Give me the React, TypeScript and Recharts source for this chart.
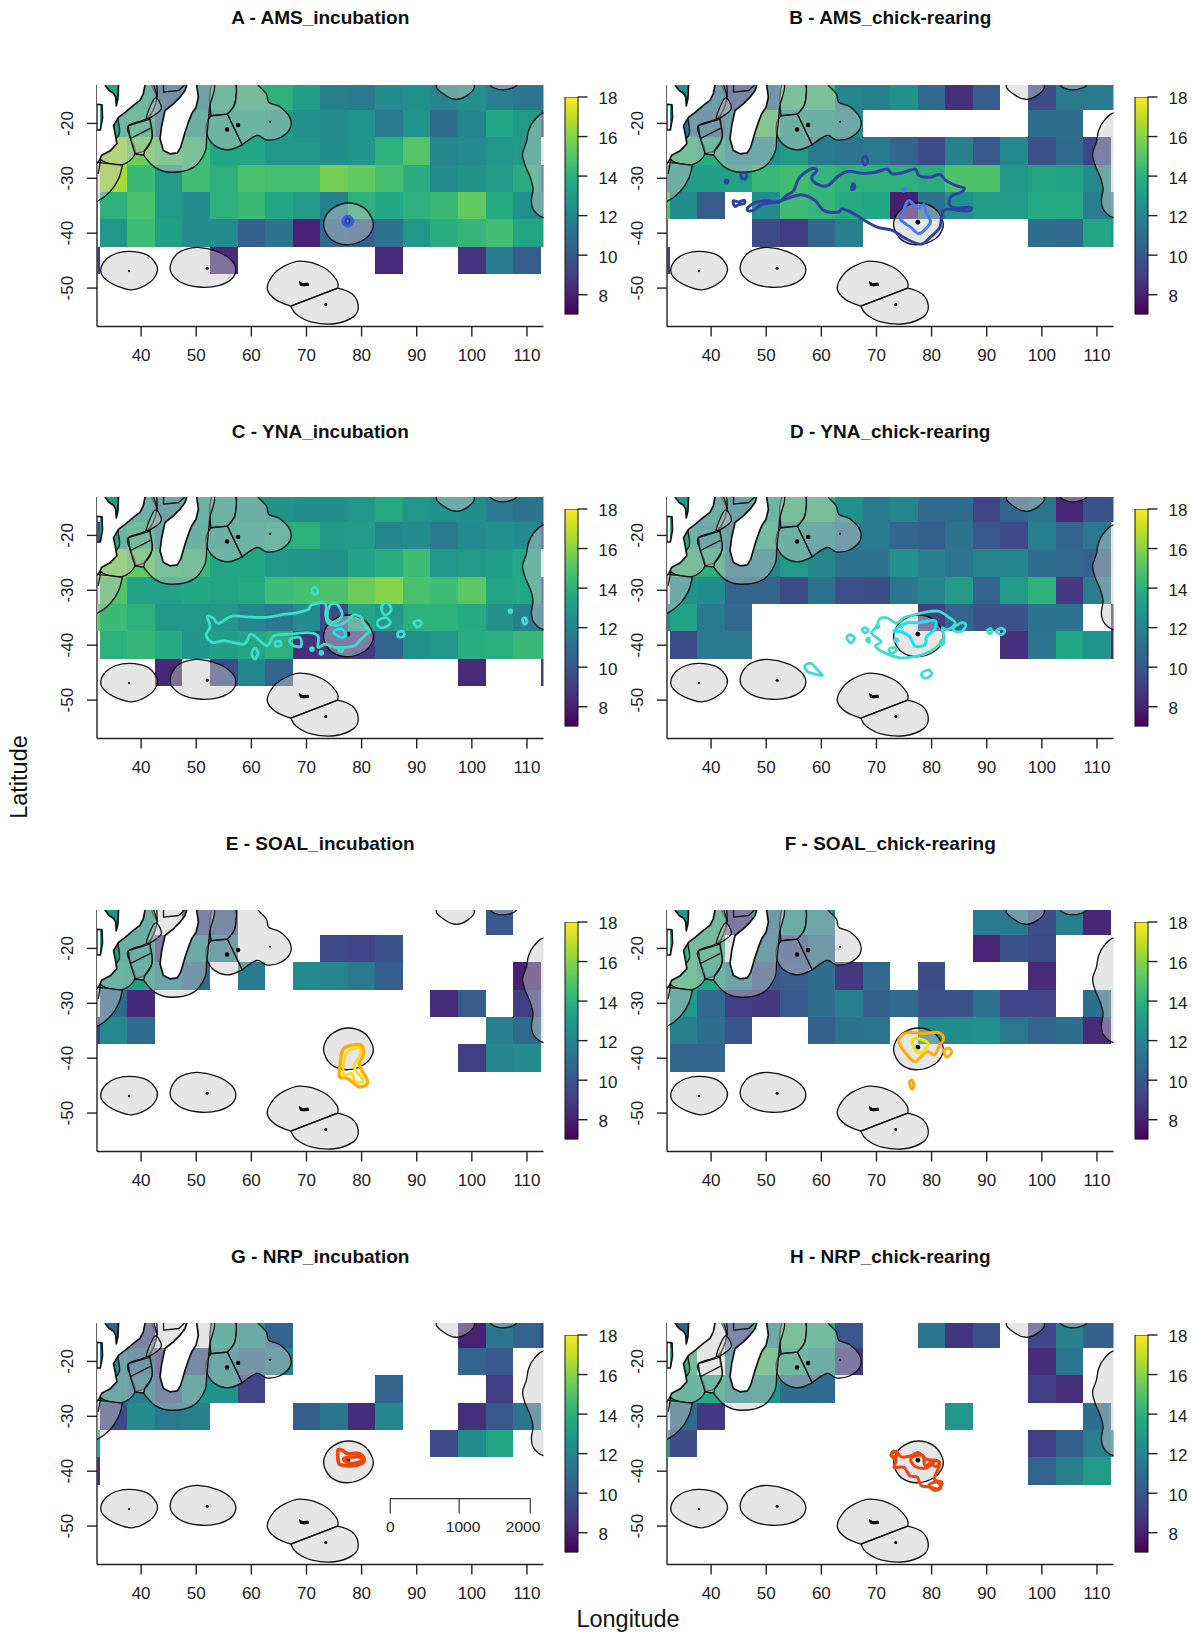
import React from 'react';
import { ScatterChart, Scatter, XAxis, YAxis, BarChart, Bar } from 'recharts';

type Pt = [number, number];
const _ = null;

const LON_CENTERS = [30, 35, 40, 45, 50, 55, 60, 65, 70, 75, 80, 85, 90, 95, 100, 105, 110, 115];
const LAT_CENTERS = [-15, -20, -25, -30, -35, -40, -45];
const LON_TICKS = [40, 50, 60, 70, 80, 90, 100, 110];
const LAT_TICKS = [-20, -30, -40, -50];
const BAR_TICKS = [8, 10, 12, 14, 16, 18];

const amsIncubation = [
  [_, 13.5, 13.5, 10.5, 12, 13.8, 14.2, 14, 13.2, 11.8, 11.5, 12.2, 12.5, 12, 12.5, 11.6, 11.3, 11.3],
  [_, 13.5, 14, 11, 13, 13.5, 13.5, 13, 12.5, 12.3, 12.7, 11.5, 12.7, 11, 12, 13.5, 13, 9],
  [_, 16.5, 15.5, 15, 14.5, 13.5, 13.5, 12.8, 12.8, 12.4, 12.7, 14, 15, 12, 12.2, 12.8, 13, _],
  [_, 16.5, 14.4, 13, 14.6, 14, 14.8, 14.7, 14.7, 15.7, 15.3, 14.7, 13.8, 12.2, 12.6, 13, 13.8, 10.5],
  [_, 14, 14.8, 13, 12.3, 14, 14.4, 13.5, 13, 11.8, 14, 13.6, 14, 14.4, 15.3, 13.7, 12.5, 12],
  [_, 12.8, 14.5, 13.2, 12.3, 12.3, 10.3, 11.2, 8, 10.7, 10.3, 11.2, 12.8, 13.8, 14.2, 14.6, 13.5, 13.5],
  [9, _, _, _, _, 8.3, _, _, _, _, _, 8.3, _, _, 8.7, 11.5, 10.2, _],
];
const amsChick = [
  [_, 12.5, 11.5, 9.8, 11, 14.5, 14.5, 12, 11.8, 12.6, 10.8, 8.5, 10.2, _, 9.5, 11.5, 11.5, 11.5],
  [_, 11.5, 11, 12, 15, 13, 13, 12.5, _, _, _, _, _, _, 11, 11, _, _],
  [_, 14.3, 13.8, 12.3, 12.5, 13, 11.5, 11.3, 11.5, 10.5, 9.5, 11.8, 10, 12.2, 9.7, 10.8, 9.3, _],
  [13, 13, 13.2, 13.3, 14.3, 14.6, 14.2, 14, 14, 14, 13.8, 14.9, 14.9, 12.8, 13.4, 13.3, 12.3, _],
  [15, 12.3, 10.2, _, 12.3, 14.5, 14.2, 13.7, 13.6, 7.9, 11.2, 12.5, 13, 13, 13.7, 13.7, 11.6, 12.3],
  [_, _, _, _, 9.5, 8.9, 10.6, 11.7, _, _, _, _, _, _, 11, 10.8, 13.4, 13],
  [9, _, _, _, _, _, _, _, _, _, _, _, _, _, _, _, _, _],
];
const ynaIncubation = [
  [_, 13, 13, 12, 13.3, 13.3, 13, 12.6, 12.4, 12.4, 12.8, 13.7, 12.8, 12.5, 12.4, 11.5, 11.2, 11.2],
  [10, 13.5, 14, 12, 13.2, 13.2, 13.3, 13.7, 14, 12.9, 13, 12, 12.3, 11.5, 12.2, 12.5, 12.2, 9],
  [_, 15.8, 15.3, 14.5, 14.3, 13.5, 13.5, 12.8, 12.7, 12.5, 13.3, 13.8, 14.5, 12.8, 13, 13.2, 13.5, _],
  [_, 15, 13.3, 13.3, 13.6, 13.4, 13.7, 14.5, 14.7, 14.9, 15.5, 16, 14.8, 14.5, 15.2, 13.4, 13.6, 10],
  [15.5, 14.4, 14, 12.8, 12.8, 12.9, 12, 11.5, 12.3, 9.5, 13.5, 13, 14, 14, 13.7, 12.6, 11.7, 11],
  [_, 14, 14.2, 13.7, 12.7, 13.2, 13.4, 14, 8.5, 9, 9, 10.5, 12.5, 12.8, 13.8, 13.9, 14.3, 14.3],
  [_, _, _, 8.2, _, 9.5, 12, 10.5, _, _, _, _, _, _, 8.3, _, _, 9],
];
const ynaChick = [
  [_, 13, 13, 12, 13.5, 14.3, 14.3, 12.5, 11.5, 12, 10.8, 10.9, 9.2, 10.5, 11.3, 8.2, 9.8, 9.8],
  [_, 13.5, 12.5, 11.5, 14, 13, 12.5, 11.5, 11.5, 10.5, 10.3, 11.2, 10, 9.5, 11.7, 10.5, 11.5, _],
  [_, 14.3, 14, 11.5, 12, 13, 12, 11.2, 11.2, 12.5, 11.7, 11.3, 12, 12, 11, 10.7, 10.4, _],
  [_, 12.5, 12.3, 10.5, 10.5, 9.5, 11.2, 9.7, 9.6, 11.3, 12, 13, 10.5, 13, 14.1, 8.8, 11.6, _],
  [12, 13.3, 11.5, 10.7, _, _, _, _, _, _, 9, 10.5, 9.8, 9.8, 11.2, 11.2, _, 9],
  [_, 9.5, 11.5, 11.5, _, _, _, _, _, _, _, _, _, 8.5, 11.3, 13.6, 12.7, 8.5],
  [_, _, _, _, _, _, _, _, _, _, _, _, _, _, _, _, _, _],
];
const soalIncubation = [
  [_, 12.5, 12.8, _, 9.5, 10, _, _, _, _, _, _, _, _, _, 10, _, _],
  [_, 13, 13, 8.8, 12.5, 11.8, _, _, _, 9.5, 9.2, 9.8, _, _, _, _, _, _],
  [_, 13.5, 13.2, 12, 10.8, _, 11.5, _, 12.2, 12, 11.4, 10.3, _, _, _, _, 8, _],
  [_, 10.8, 8.2, _, _, _, _, _, _, _, _, _, _, 8.4, 10.2, _, 9, _],
  [9, 12.1, 10.9, _, _, _, _, _, _, _, _, _, _, _, _, 11.7, 10.8, _],
  [_, _, _, _, _, _, _, _, _, _, _, _, _, _, 9, 12, 12.2, _],
  [_, _, _, _, _, _, _, _, _, _, _, _, _, _, _, _, _, _],
];
const soalChick = [
  [_, 12.8, 14, 8.8, 11, 12.7, 12.3, _, _, _, _, _, 11.5, 11.5, 9.6, 11.7, 8.2, _],
  [_, 14.2, 14, _, 11.5, 9.7, 11.2, _, _, _, _, _, 8.1, 9.8, 9.5, _, _, _],
  [_, 14.5, 13.4, 12, 10, 10.2, 11, 8.8, 10.8, _, 9.6, _, _, _, 8.3, _, _, _],
  [_, 12.8, 10.8, 9, 8.8, 10, 11, 11.6, 10.3, 10.8, 9.7, 9.8, 11.2, 9.2, 9.2, _, 11, _],
  [_, 11.7, 11, 9.9, _, _, 10.4, 11.2, 11.3, _, 12.2, 12.3, 12.5, 11.4, 10.5, 11, 8.3, _],
  [_, 10.5, 10.5, _, _, _, _, _, _, _, _, _, _, _, _, _, _, _],
  [_, _, _, _, _, _, _, _, _, _, _, _, _, _, _, _, _, _],
];
const nrpIncubation = [
  [_, 10.5, 9.5, _, _, 13.2, 12.6, 10.5, _, _, _, _, _, _, 8, 11.3, 10.5, 9],
  [_, 12, 11, 8.7, 10, 12.4, 10.8, 11.8, _, _, _, _, _, _, 10.6, 10, _, _],
  [_, 12.3, 11.7, 10, 12.5, 12.6, 9.2, _, _, _, _, 10.5, _, _, _, 9, _, _],
  [_, 9.5, 12.3, 11.5, 11.8, _, _, _, 10.2, 11.3, 8.4, 12, _, _, 8.5, 10, 11.3, _],
  [13.5, _, _, _, _, _, _, _, _, _, _, _, _, 9.5, 12.3, 13.5, _, _],
  [8.5, _, _, _, _, _, _, _, _, _, _, _, _, _, _, _, _, _],
  [_, _, _, _, _, _, _, _, _, _, _, _, _, _, _, _, _, _],
];
const nrpChick = [
  [_, 10.5, _, 10, 12.5, 14.5, 14, 10, _, _, 11.3, 8.7, 9.7, _, 9.3, 11.7, 10.3, 10.3],
  [_, 14, _, 12, 14.8, 13.8, 12.8, 8.8, _, _, _, _, _, _, 8.4, 11.3, _, _],
  [_, 13.5, 13.7, 12.3, 12.8, 11, 10.8, _, _, _, _, _, _, _, 9, 8.5, _, _],
  [_, 10.8, 8.8, _, _, _, _, _, _, _, _, 12.8, _, _, _, _, 11, _],
  [13, 9.6, _, _, _, _, _, _, _, _, _, _, _, _, 9, 10.3, 11.6, 12.5],
  [_, _, _, _, _, _, _, _, _, _, _, _, _, _, 10.5, 11.8, 13, _],
  [_, _, _, _, _, _, _, _, _, _, _, _, _, _, _, _, _, _],
];

// map outlines, lon/lat
const africa: Pt[] = [[30, -11], [33.45, -11], [33.5, -13.1], [34.2, -14], [35, -14.5], [35.4, -15.2], [35.5, -16.8], [35.8, -15.5], [35.9, -13.1], [35.9, -11], [41, -11], [40.7, -13.1], [40.4, -14.6], [39.8, -15.8], [38.6, -16.7], [37.1, -18], [35.9, -18.9], [35, -20.4], [35.3, -21.9], [35.6, -23.7], [34.4, -25], [32.85, -25.8], [32.4, -26.8], [32.06, -27.2], [30, -27.5], [30, -21.2], [32.6, -21.2], [33, -19], [32.9, -16.6], [30, -16.4]];
const madagascar: Pt[] = [[48.88, -11], [50.09, -11], [50.09, -13.09], [50.39, -15.22], [49.97, -17.04], [49.18, -18.25], [48.58, -19.77], [47.97, -21.59], [47.19, -24.32], [46.58, -25.36], [45.25, -25.54], [44.04, -24.93], [43.43, -22.81], [43.74, -20.38], [44.34, -17.65], [45.85, -16.43], [47.06, -15.22], [47.97, -14]];
const eezCrozetWest: Pt[] = [[37.86, -43.3], [40.97, -43.9], [42.69, -45.6], [42.9, -47.1], [41.66, -48.9], [38.55, -50.3], [35.45, -49.55], [33.17, -48], [32.69, -46.5], [33.72, -44.7], [35.45, -43.7]];
const eezCrozetEast: Pt[] = [[50.28, -42.6], [53.72, -43.3], [56.14, -44.7], [57.17, -46.5], [56.48, -48.3], [54.07, -49.55], [50.97, -49.85], [47.86, -49.25], [45.72, -47.7], [45.31, -45.9], [46.48, -43.8], [48.2, -42.9]];
const eezKerguelen: Pt[] = [[68.9, -45.1], [73.03, -46.2], [75.45, -48.5], [75.66, -50], [75.66, -50], [67.17, -53.3], [67.17, -53.3], [64.41, -52.1], [62.9, -50.2], [63.72, -47.9], [65.79, -46.1]];
const eezHeard: Pt[] = [[75.66, -50], [75.66, -50], [78.2, -51], [79.4, -53.2], [78.55, -55.2], [75.1, -56.5], [71, -56.2], [68.2, -54.8], [67.17, -53.3], [67.17, -53.3]];
const eezAmsterdam: Pt[] = [[77.6, -34.5], [80.3, -35.3], [81.9, -37.4], [82, -39.2], [80.6, -41.05], [77.6, -42.1], [74.76, -41.35], [73.24, -39.2], [73.4, -37.1], [75, -35.3]];
const eezTopArc: Pt[] = [[93.6, -13], [94.8, -14.6], [97, -15.6], [99.3, -14.8], [100.4, -13], [97, -11]];
const eezTopSmall: Pt[] = [[103.4, -13], [105.6, -13.9], [108.1, -13], [105.7, -11.5]];
const eezAustralia: Pt[] = [[113.2, -18], [111.3, -19.5], [110.3, -21.3], [109.9, -23.4], [109.2, -25.6], [109.7, -27.7], [110.6, -29.8], [111.1, -31.9], [110.8, -34.1], [111.3, -35.9], [113.2, -37.2], [118, -37], [118, -18]];
const eezTromelin: Pt[] = [[53.38, -12], [52.48, -14.9], [52.69, -18.6], [52.69, -18.6], [55.66, -18.3], [55.66, -18.3], [56.97, -16.5], [57.3, -13.6], [56.5, -12]];
const eezReunion: Pt[] = [[52.69, -18.6], [52.69, -18.6], [55.66, -18.3], [55.66, -18.3], [58.34, -23.9], [58.34, -23.9], [55.8, -24.8], [53.38, -24.05], [52, -22.2], [51.86, -20.1]];
const eezMauritius: Pt[] = [[55.66, -18.3], [55.66, -18.3], [56.97, -16.5], [57.3, -13.6], [57.3, -12], [60.5, -12], [61.3, -13.1], [62.7, -14.6], [63.2, -16.2], [65.1, -16.9], [66.97, -18.9], [67, -21], [65.1, -22.65], [62.7, -23], [61, -22.2], [58.34, -23.9], [58.34, -23.9]];
const eezMadagascar: Pt[] = [[52.63, -12], [52.4, -17.3], [51.9, -22.5], [51.6, -25.2], [49.5, -28], [45.55, -28.9], [42.5, -28], [40.4, -25.7], [40.4, -25.7], [38.9, -25.5], [40.7, -24.9], [42, -22.5], [41.6, -19.2], [42.83, -15.5], [42.5, -12]];
const eezMozambique: Pt[] = [[40.7, -12], [42.5, -12], [42.83, -15.5], [41.3, -18.9], [37.7, -20.4], [38, -22.5], [38.9, -25.5], [36.5, -27.5], [32.85, -26.75], [33, -25], [36, -22], [36, -18], [40, -14]];
const eezEuropa: Pt[] = [[37.7, -20.4], [37.7, -20.4], [41.6, -19.2], [41.6, -19.2], [42, -22.5], [40.7, -24.9], [40.4, -25.7], [38.9, -25.5], [38.9, -25.5], [38, -22.5]];
const eezSouthAfrica: Pt[] = [[32.2, -27.1], [36.6, -27.6], [36.6, -27.6], [35.9, -30.1], [34.4, -32.4], [32, -34.2], [29, -35], [29, -27]];
const eezJuanDeNova: Pt[] = [[40.97, -19], [42.5, -15.4], [43.7, -17.1], [42.7, -18.3]];
const eezBorders: Pt[][] = [
  [[38, -22.8], [41.7, -20.9]],
  [[42.3, -13], [43, -15.2]],
  [[44.07, -13], [44.07, -14.3], [46.83, -14], [47.9, -13]],
  [[32.7, -26.5], [32.2, -29.2]],
];
const kerguelenIsland: Pt[] = [[68.7, -48.8], [69.3, -49.2], [70.3, -49.1], [70.4, -49.5], [69.5, -49.6], [68.9, -49.5]];
const largeIslands: Pt[] = [[55.6, -21.1], [57.6, -20.3]];
const mediumIslands: Pt[] = [[52, -46.4], [73.5, -53]];
const smallIslands: Pt[] = [[63.4, -19.7], [37.8, -46.9]];
const colonySite: Pt[] = [[77.5, -38]];

// foraging contours
const amsIncOuter: Pt[][] = [[[76.6, -37.8], [77.5, -36.9], [78.4, -37.8], [77.5, -38.7]]];
const amsIncInner: Pt[][] = [[[77.1, -37.8], [77.5, -37.3], [77.9, -37.8], [77.5, -38.3]]];
const amsChickOuter: Pt[][] = [
  [[46.7, -35.3], [48.1, -34.4], [50.1, -34.1], [52.2, -34.4], [53.6, -33.2], [55, -32.2], [55.7, -30.4], [56.7, -29.2], [58.4, -28.2], [59.2, -28.6], [58.4, -29.5], [58.4, -30.4], [59.8, -31.3], [61.2, -31.3], [63.2, -29.5], [65, -28.7], [67.4, -29.1], [69.8, -28.9], [71.9, -28.3], [72.9, -29.2], [75, -28.9], [77, -28.3], [77.7, -29.5], [79.8, -29.8], [81.5, -29.3], [82.6, -30.4], [84.3, -31.3], [85.9, -31.8], [85.3, -32.6], [83.6, -33.2], [83.2, -34.7], [84.3, -35.4], [87, -35.3], [87, -35.9], [85.3, -35.9], [82.2, -35.8], [81.5, -38.9], [79.8, -40.7], [78.1, -42], [75.3, -41], [72.9, -39.5], [70.1, -38.9], [67.4, -37.4], [66, -36.5], [63.9, -35.6], [62.9, -36.2], [60.5, -35.9], [58.8, -34], [56.3, -33], [53.6, -33.8], [51.5, -34.4], [49.4, -34.7], [47.7, -35.8], [46.7, -35.9]],
  [[45.4, -29.3], [46, -29], [46.5, -29.4], [46.2, -30.1], [45.6, -30]],
  [[67.5, -26.4], [68, -26], [68.4, -26.8], [68, -27.5], [67.6, -27.2]],
  [[44, -34.1], [45, -34.3], [46, -34], [46, -34.6], [45, -34.8], [44.3, -35.1]],
  [[65.7, -31], [66, -31.2], [66, -31.8], [65.5, -32]],
  [[42.6, -30.4], [43, -30.4], [43, -30.8], [42.6, -30.8]],
];
const amsChickInner: Pt[][] = [
  [[74.6, -37.1], [75.3, -34.8], [76, -34.1], [77.4, -35.3], [78.6, -34.8], [79, -36.2], [79.8, -37.8], [79.2, -38.9], [77.7, -40.1], [76.2, -38.9], [74.5, -37.7]],
  [[74.8, -31.9], [75.2, -31.9], [75.2, -32.3], [74.8, -32.3]],
];
const ynaIncOuter: Pt[][] = [
  [[52, -34.7], [53, -35], [54.1, -36], [56.5, -34.7], [59.9, -34.9], [63, -34.9], [65.8, -34.4], [68.2, -34.1], [70.3, -33.5], [71, -32.6], [73.4, -32.4], [73.5, -34.5], [74, -36], [76, -36.3], [77.5, -35.5], [78.5, -34.5], [80, -35], [80.5, -36.5], [81.5, -37.5], [80.8, -38], [79.7, -39.2], [78.7, -40.1], [77, -40.4], [75.2, -40.4], [73.4, -39.8], [72.1, -40.4], [72.1, -38.3], [70.3, -37.7], [66.9, -38], [64.1, -38.3], [62.8, -40.1], [60, -38], [58.7, -39.8], [55.2, -39.2], [53, -39.5], [51.8, -38.2], [52.5, -36.6]],
  [[74.2, -32.8], [75.5, -32.5], [76.5, -34.5], [75, -35.8], [73.8, -35]],
  [[83.7, -32.8], [84.6, -32.2], [85.4, -33.5], [84.5, -34.5], [83.8, -34]],
  [[83, -35.5], [84.5, -35], [85.2, -36], [84, -36.8], [83, -36.5]],
  [[89.5, -35.8], [90.5, -35.5], [90.8, -36.2], [90, -36.7]],
  [[86.6, -37.7], [87.5, -37.5], [87.7, -38.3], [86.7, -38.5]],
  [[60.2, -41], [60.8, -40.5], [61.2, -41.5], [60.7, -42.5], [60.2, -42]],
  [[64.3, -39.5], [65.2, -39.3], [65.4, -40], [64.5, -40.2]],
  [[67, -39], [68.8, -38.6], [69, -40.2], [67.5, -40]],
  [[71, -30], [71.5, -29.4], [72.1, -30.2], [71.5, -30.8]],
  [[106.8, -33.6], [107.2, -33.6], [107.2, -34], [106.8, -34]],
  [[109.2, -35.3], [109.7, -35], [110, -35.8], [109.5, -36.2]],
  [[70.8, -40.5], [71.2, -40.5], [71.2, -40.9], [70.8, -40.9]],
  [[72.5, -41.2], [72.9, -41.2], [72.9, -41.6], [72.5, -41.6]],
  [[75.9, -40.5], [76.5, -40.5], [76.5, -41.1], [75.9, -41.1]],
];
const ynaIncInner: Pt[][] = [[[75, -37.5], [76.3, -37], [77.2, -38], [76.6, -38.6], [75.5, -38.2]]];
const ynaChickOuter: Pt[][] = [
  [[70.5, -35.3], [71.9, -35], [73.6, -36], [75, -35], [76.3, -34.6], [78.4, -34.1], [81.2, -33.8], [83.2, -35], [84.3, -36], [82.9, -37.2], [81.9, -36.9], [82.2, -39], [79.8, -41.1], [77.4, -42], [74.3, -42.3], [71.5, -41.4], [69.8, -40.2], [70.8, -39.3], [69.1, -37.8], [70.1, -36.6]],
  [[83.9, -36.9], [85.5, -35.9], [86.2, -36.3], [85.6, -37.4], [84.4, -37.5]],
  [[67.4, -37.2], [68, -36.8], [68.5, -37.3], [68, -37.8]],
  [[64.6, -38.6], [65.2, -38.1], [66, -38.7], [65.3, -39.6]],
  [[68.2, -39], [68.6, -38.7], [68.7, -39.5]],
  [[90.1, -37.3], [90.7, -37], [91, -37.5], [90.5, -37.9]],
  [[91.7, -37.5], [92.6, -36.9], [93.3, -37.4], [92.7, -38.1]],
  [[57, -43.8], [58.1, -43.3], [59.3, -44.5], [60.2, -45.5], [59, -45.3], [57.5, -44.8]],
  [[78.3, -45], [79.5, -44.5], [80, -45.3], [79, -46], [78.3, -45.7]],
  [[72.3, -40.7], [73.3, -40.4], [73.6, -41], [72.7, -41.5]],
  [[81.6, -39.3], [82.1, -39.1], [82.2, -39.7], [81.7, -40]],
  [[70, -36.4], [70.4, -36.4], [70.4, -36.8], [70, -36.8]],
  [[73.4, -38.9], [73.8, -38.9], [73.8, -39.3], [73.4, -39.3]],
];
const ynaChickInner: Pt[][] = [[[73.2, -37.4], [75.3, -36], [77.7, -35.9], [80.6, -35.5], [80.5, -37.2], [79.1, -38.4], [78.8, -39.9], [77, -40.2], [76, -38.4], [74.3, -37.5]]];
const soalIncOuter: Pt[][] = [[[76.8, -38.2], [79.9, -37.6], [80.3, -39.4], [79.6, -41.2], [81.1, -44.3], [79.6, -45.2], [77.5, -43.7], [76, -43.4], [76.1, -41.2]]];
const soalIncInner: Pt[][] = [[[77.5, -38.8], [79.6, -38.1], [79.7, -39.7], [78.6, -41.5], [80.3, -44.1], [78.9, -44.3], [78.2, -42.8], [76.8, -43], [76.8, -40.6]]];
const soalChickOuter: Pt[][] = [
  [[74.1, -36.4], [75.7, -35.3], [78.4, -35.5], [81.2, -35.3], [82.2, -36.4], [81.5, -37.6], [80.5, -39.4], [79.1, -38.8], [77, -40.6], [75.3, -39.1], [74.3, -37.6]],
  [[82.2, -38.6], [83.2, -38.2], [83.6, -39], [82.7, -39.8]],
  [[76, -44.4], [76.5, -44], [76.8, -45], [76.4, -45.6]],
];
const soalChickInner: Pt[][] = [[[76.5, -36.7], [77.4, -36.4], [79.4, -37.3], [78, -39.1], [76.7, -37.9]]];
const nrpIncOuter: Pt[][] = [
  [[75.7, -36.2], [76.5, -36.2], [77.5, -36.8], [79.6, -36.8], [80.5, -38], [79.2, -38.9], [76.5, -38.9], [75.8, -38.3]],
  [[76.8, -37.7], [79.6, -37.4], [79.9, -38.2], [77.9, -38.6]],
];
const nrpChickOuter: Pt[][] = [
  [[72.6, -37.1], [73.6, -36.4], [74.5, -37.4], [76.3, -37.2], [77.6, -36.6], [79, -37.8], [81.5, -38.4], [80.5, -41.4], [81.9, -42], [81.2, -43.2], [79.8, -42.9], [78.1, -42.6], [77.4, -41.1], [76, -40.8], [75, -39.3], [73.2, -39.3], [73.6, -38]],
  [[76.3, -37.6], [78.4, -37.1], [78.8, -38.9], [80.5, -38.3], [79.1, -39.4], [77.7, -39.4], [76.7, -38.9]],
  [[72.7, -36.8], [73.2, -36.3], [73.8, -36.9], [73.2, -37.7]],
  [[79.5, -42.5], [81, -42], [81.7, -43], [80.5, -43.5]],
  [[79.7, -38.3], [81.3, -38.2], [80.8, -39.2]],
];

const scaleBracket: Pt[] = [[85.2, -47.7], [85.2, -45], [110.6, -45], [110.6, -47.7]];
const scaleMiddle: Pt[] = [[97.7, -45], [97.7, -47.7]];
const scaleLabels = ['0', '1000', '2000'];
const scaleLabelLon = [85.2, 98.4, 109.3];

const VIRIDIS = ['#440154', '#482475', '#414487', '#355f8d', '#2a788e', '#21918c', '#22a884', '#44bf70', '#7ad151', '#bddf26', '#fde725'];

const viridis = (v: number) => {
  const t = Math.min(0.9999, Math.max(0, (v - 7) / 11)) * 10;
  const i = Math.floor(t);
  const mix = (a: string, b: string, s: number) => {
    const ca = parseInt(a.slice(1), 16);
    const cb = parseInt(b.slice(1), 16);
    const ch = (sh: number) => Math.round(((ca >> sh) & 255) * (1 - s) + ((cb >> sh) & 255) * s);
    return `rgb(${ch(16)},${ch(8)},${ch(0)})`;
  };
  return mix(VIRIDIS[i], VIRIDIS[i + 1], t - i);
};

const toRows = (pts: Pt[]) => pts.map(([lon, lat]) => ({ lon, lat }));
const noSymbol = () => <g />;

// repeated points in an outline mark a sharp corner, so they get no tangent
const smoothClosed = (p: { x: number; y: number }[]) => {
  const n = p.length;
  const at = (i: number) => p[(i + n) % n];
  const same = (a: any, b: any) => a.x === b.x && a.y === b.y;
  const tangent = (i: number) =>
    same(at(i), at(i - 1)) || same(at(i), at(i + 1))
      ? { x: 0, y: 0 }
      : { x: (at(i + 1).x - at(i - 1).x) / 6, y: (at(i + 1).y - at(i - 1).y) / 6 };
  let d = `M${p[0].x},${p[0].y}`;
  for (let i = 0; i < n; i++) {
    const t1 = tangent(i);
    const t2 = tangent(i + 1);
    const a = at(i);
    const b = at(i + 1);
    d += `C${a.x + t1.x},${a.y + t1.y},${b.x - t2.x},${b.y - t2.y},${b.x},${b.y}`;
  }
  return d + 'Z';
};

const straight = (p: { x: number; y: number }[], closed: boolean) =>
  p.map((q, i) => `${i ? 'L' : 'M'}${q.x},${q.y}`).join('') + (closed ? 'Z' : '');

type OutlineStyle = { fill?: string; stroke?: string; width?: number; smooth?: boolean; closed?: boolean };

// Scatter hands its pixel points to the line prop, so every outline goes through the chart scales
const outlineSeries = (key: string, pts: Pt[], s: OutlineStyle) => (
  <Scatter
    key={key}
    data={toRows(pts)}
    shape={noSymbol}
    isAnimationActive={false}
    line={(p: any) => (
      <path
        d={s.smooth ? smoothClosed(p.points) : straight(p.points, s.closed !== false)}
        fill={s.fill ?? 'none'}
        stroke={s.stroke ?? 'none'}
        strokeWidth={s.width ?? 1}
        strokeLinejoin="round"
      />
    )}
  />
);

const heatSeries = (rows: (number | null)[][]) => {
  const corners: Pt[] = [];
  const colors: string[] = [];
  rows.forEach((row, r) =>
    row.forEach((v, c) => {
      if (v === null) return;
      corners.push([LON_CENTERS[c] - 2.5, LAT_CENTERS[r] + 2.5], [LON_CENTERS[c] + 2.5, LAT_CENTERS[r] - 2.5]);
      colors.push(viridis(v));
    }),
  );
  return (
    <Scatter
      key="heat"
      data={toRows(corners)}
      shape={noSymbol}
      isAnimationActive={false}
      line={(p: any) => (
        <g>
          {colors.map((fill, i) => {
            const a = p.points[i * 2];
            const b = p.points[i * 2 + 1];
            return <rect key={i} x={a.x} y={a.y} width={b.x - a.x} height={b.y - a.y} fill={fill} shapeRendering="crispEdges" />;
          })}
        </g>
      )}
    />
  );
};

const dotSeries = (key: string, pts: Pt[], r: number) => (
  <Scatter
    key={key}
    data={toRows(pts)}
    isAnimationActive={false}
    shape={(p: any) => <circle cx={p.cx} cy={p.cy} r={r} fill="#000" />}
  />
);

const EEZ_FILL = 'rgba(200,200,200,0.45)';
const eezShapes = [eezCrozetWest, eezCrozetEast, eezKerguelen, eezHeard, eezAmsterdam, eezTopArc, eezTopSmall, eezAustralia, eezTromelin, eezReunion, eezMauritius, eezMadagascar, eezMozambique, eezEuropa, eezSouthAfrica, eezJuanDeNova];

const mapLayers = [
  ...eezShapes.map((pts, i) => outlineSeries(`eez${i}`, pts, { fill: EEZ_FILL, stroke: '#111', width: 1.3, smooth: true })),
  outlineSeries('africa', africa, { fill: '#fff', stroke: '#111', width: 1.7 }),
  outlineSeries('madagascar', madagascar, { fill: '#fff', stroke: '#111', width: 1.7 }),
  ...eezBorders.map((pts, i) => outlineSeries(`border${i}`, pts, { stroke: '#111', width: 1.3, closed: false })),
  outlineSeries('kerguelenIsland', kerguelenIsland, { fill: '#000', stroke: '#000', width: 1 }),
  dotSeries('largeIslands', largeIslands, 2.2),
  dotSeries('mediumIslands', mediumIslands, 1.5),
  dotSeries('smallIslands', smallIslands, 1.1),
];

const contourLayers = (id: string, rings: Pt[][], stroke: string, width: number) =>
  rings.map((pts, i) => outlineSeries(`${id}${i}`, pts, { stroke, width, smooth: true }));

const PANELS = [
  { title: 'A - AMS_incubation', cells: amsIncubation, colony: false, contours: [contourLayers('o', amsIncOuter, '#3b5fe0', 3.4), contourLayers('i', amsIncInner, '#2a3f9e', 2)] },
  { title: 'B - AMS_chick-rearing', cells: amsChick, colony: true, contours: [contourLayers('o', amsChickOuter, '#2d439f', 3), contourLayers('i', amsChickInner, '#4a78f2', 3)] },
  { title: 'C - YNA_incubation', cells: ynaIncubation, colony: true, contours: [contourLayers('o', ynaIncOuter, '#3fdccb', 2.8), contourLayers('i', ynaIncInner, '#14e4f4', 2.8)] },
  { title: 'D - YNA_chick-rearing', cells: ynaChick, colony: true, contours: [contourLayers('o', ynaChickOuter, '#3fdccb', 2.8), contourLayers('i', ynaChickInner, '#14e4f4', 3)] },
  { title: 'E - SOAL_incubation', cells: soalIncubation, colony: false, contours: [contourLayers('o', soalIncOuter, '#ffae00', 3.4), contourLayers('i', soalIncInner, '#ffd91a', 2.8)] },
  { title: 'F - SOAL_chick-rearing', cells: soalChick, colony: true, contours: [contourLayers('o', soalChickOuter, '#ffa90a', 3), contourLayers('i', soalChickInner, '#f4e40f', 3)] },
  { title: 'G - NRP_incubation', cells: nrpIncubation, colony: true, contours: [contourLayers('o', nrpIncOuter, '#e8480f', 3.6)] },
  { title: 'H - NRP_chick-rearing', cells: nrpChick, colony: true, contours: [contourLayers('o', nrpChickOuter, '#e8480f', 3)] },
];

const PLOT_LEFT = [97, 667];
const PLOT_TOP = [84.5, 497, 910, 1323];
const TITLE_Y = [18, 432, 844, 1257];
const PLOT_W = 446.5;
const PLOT_H = 241.5;
const AXIS_W = 60;
const AXIS_H = 50;
const BAR_PAD = 12;
const FONT = '"Liberation Sans", Arial, sans-serif';
const INK = '#222';

const XTick = ({ x, y, payload }: any) => (
  <text x={x} y={y + 18} textAnchor="middle" dominantBaseline="middle" fontSize={17} fontFamily={FONT} fill={INK}>
    {payload.value}
  </text>
);

const YTick = ({ x, y, payload }: any) => (
  <text x={x - 16} y={y} transform={`rotate(-90 ${x - 16} ${y})`} textAnchor="middle" dominantBaseline="middle" fontSize={17} fontFamily={FONT} fill={INK}>
    {payload.value}
  </text>
);

const BarTick = ({ x, y, payload }: any) => (
  <text x={x + 9} y={y + 3} textAnchor="start" dominantBaseline="middle" fontSize={17} fontFamily={FONT} fill={INK}>
    {payload.value}
  </text>
);

const LON_DOMAIN: [number, number] = [32, 113];
const LAT_DOMAIN: [number, number] = [-57, -13];

const MapPanel = ({ panel, withScale }: { panel: (typeof PANELS)[number]; withScale: boolean }) => (
  <ScatterChart width={AXIS_W + PLOT_W + 4} height={4 + PLOT_H + AXIS_H} margin={{ top: 4, right: 4, bottom: 0, left: 0 }}>
    <XAxis type="number" dataKey="lon" domain={LON_DOMAIN} ticks={LON_TICKS} allowDataOverflow height={AXIS_H} tickSize={10} tick={<XTick />} stroke={INK} strokeWidth={1.4} interval={0} />
    <YAxis type="number" dataKey="lat" domain={LAT_DOMAIN} ticks={LAT_TICKS} allowDataOverflow width={AXIS_W} tickSize={10} tick={<YTick />} stroke={INK} strokeWidth={1.4} interval={0} />
    <XAxis xAxisId="top" orientation="top" type="number" domain={LON_DOMAIN} allowDataOverflow height={0} tick={false} tickLine={false} stroke={INK} strokeWidth={1.4} />
    <YAxis yAxisId="right" orientation="right" type="number" domain={LAT_DOMAIN} allowDataOverflow width={0} tick={false} tickLine={false} stroke={INK} strokeWidth={1.4} />
    {heatSeries(panel.cells)}
    {mapLayers}
    {panel.colony && dotSeries('colony', colonySite, 2.4)}
    {panel.contours}
    {withScale && outlineSeries('scaleBracket', scaleBracket, { stroke: '#333', width: 1.2, closed: false })}
    {withScale && outlineSeries('scaleMiddle', scaleMiddle, { stroke: '#333', width: 1.2, closed: false })}
    {withScale && (
      <Scatter
        data={scaleLabels.map((label, i) => ({ lon: scaleLabelLon[i], lat: -50.4, label }))}
        isAnimationActive={false}
        shape={(p: any) => (
          <text x={p.cx} y={p.cy} textAnchor="middle" dominantBaseline="middle" fontSize={15.5} fontFamily={FONT} fill={INK}>
            {p.payload.label}
          </text>
        )}
      />
    )}
  </ScatterChart>
);

const barData = [{ name: 'sst', range: [7, 18] }];

const ColorBar = ({ id }: { id: string }) => (
  <BarChart width={1 + 12.5 + 45} height={217.5 + BAR_PAD * 2} data={barData} barCategoryGap={0} margin={{ top: BAR_PAD, right: 0, bottom: BAR_PAD, left: 1 }}>
    <defs>
      <linearGradient id={id} x1="0" y1="1" x2="0" y2="0">
        {VIRIDIS.map((c, i) => (
          <stop key={c} offset={`${i * 10}%`} stopColor={c} />
        ))}
      </linearGradient>
    </defs>
    <XAxis dataKey="name" hide />
    <YAxis orientation="right" type="number" domain={[7, 18]} ticks={BAR_TICKS} allowDataOverflow width={45} tickSize={10} tick={<BarTick />} axisLine={false} stroke={INK} strokeWidth={1.4} interval={0} />
    <Bar dataKey="range" fill={`url(#${id})`} stroke="#111" strokeWidth={1} isAnimationActive={false} />
  </BarChart>
);

const abs = (left: number, top: number): React.CSSProperties => ({ position: 'absolute', left, top });

export default function App() {
  return (
    <div style={{ position: 'absolute', left: 0, top: 0, width: 1192, height: 1635, background: '#fff', fontFamily: FONT, color: '#111' }}>
      {PANELS.map((panel, i) => {
        const col = i % 2;
        const row = Math.floor(i / 2);
        const left = PLOT_LEFT[col];
        const top = PLOT_TOP[row];
        return (
          <React.Fragment key={panel.title}>
            <div style={{ ...abs(left, TITLE_Y[row] - 11), width: PLOT_W, textAlign: 'center', fontWeight: 700, fontSize: 19, lineHeight: '22px', whiteSpace: 'nowrap' }}>
              {panel.title}
            </div>
            <div style={abs(left - AXIS_W, top - 4)}>
              <MapPanel panel={panel} withScale={i === 6} />
            </div>
            <div style={abs(left + PLOT_W + 21 - 1, top + 12.3 - BAR_PAD)}>
              <ColorBar id={`viridis-${i}`} />
            </div>
          </React.Fragment>
        );
      })}
      <div style={{ ...abs(19 - 60, 777 - 15), width: 120, height: 30, lineHeight: '30px', textAlign: 'center', fontSize: 23.5, transform: 'rotate(-90deg)' }}>Latitude</div>
      <div style={{ ...abs(628 - 80, 1619 - 15), width: 160, height: 30, lineHeight: '30px', textAlign: 'center', fontSize: 23.5 }}>Longitude</div>
    </div>
  );
}
